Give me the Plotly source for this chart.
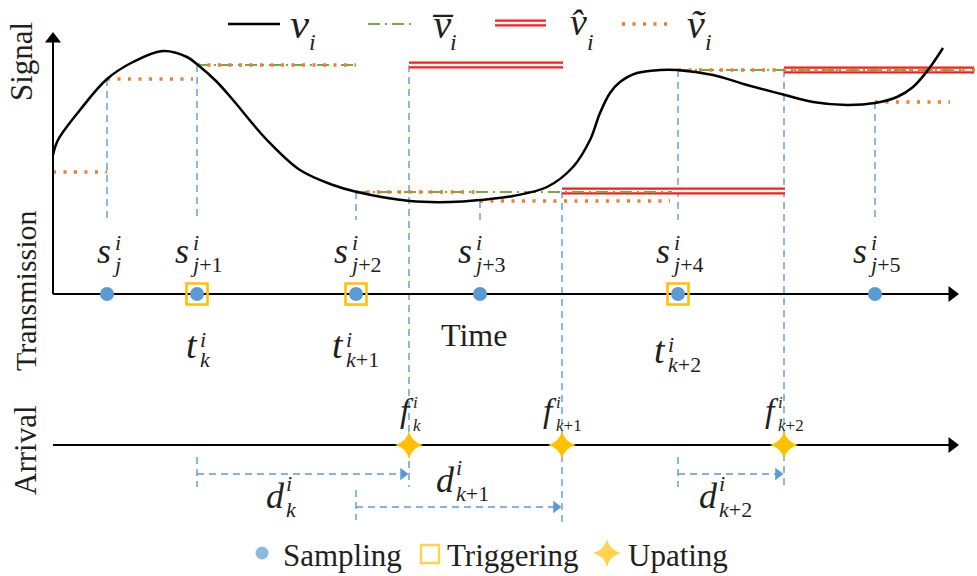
import plotly.graph_objects as go

# ---------------- data (diagram units: x = time, y = level, drawn downward) -------------
curve_t = [53, 58, 80, 107, 133, 163, 187, 198, 217, 233, 267, 300, 333, 357, 410, 450,
           480, 513, 547, 573, 590, 600, 610, 620, 637, 660, 677, 713, 747, 785, 813, 847,
           875, 897, 913, 928, 943]
curve_v = [155, 140, 110, 79, 62, 51, 57, 65, 82, 100, 140, 170, 185, 192, 201, 202,
           200, 196, 187, 167, 140, 113, 93, 82, 73, 70, 70, 75, 85, 95, 102, 105,
           103, 97, 87, 70, 48]

sample_t = [107, 197, 356, 480, 678, 875]
sample_v = [79, 65, 192, 201, 70, 102]
sample_sub = ["j", "j+1", "j+2", "j+3", "j+4", "j+5"]

trigger_idx = [1, 2, 4]
trigger_sub = ["k", "k+1", "k+2"]

arrival_t = [409, 562, 784]
arrival_v = [65, 191, 70]

tilde_start = [53, 107, 197, 356, 480, 678, 875]
tilde_end = [107, 193, 356, 480, 670, 977, 950]
tilde_v = [172, 79, 65, 192, 201, 70, 102]

bar_start = [197, 356, 678]
bar_end = [356, 672, 963]
bar_v = [65, 192, 70]

hat_start = [409, 562, 784]
hat_end = [563, 785, 974]
hat_v = [65, 191, 70]

legend_names = ["Sampling", "Triggering", "Upating"]

# ---------------- styles ----------------
FONT = "Liberation Serif"
TXT = "#231F20"
BLUE = "#5B9BD5"
ORANGE = "#ED7D31"
GREEN = "#70AD47"
GOLD = "#FFC000"
RED = "#FF1A1A"

AX_T = 294   # transmission axis level
AX_A = 445   # arrival axis level
X0 = 53
XEND = 958

fig = go.Figure()


def segs(starts, ends, vals):
    xs, ys = [], []
    for a, b, v in zip(starts, ends, vals):
        xs += [a, b, None]
        ys += [v, v, None]
    return xs, ys


def line(xs, ys, color, width, dash="solid", shape="linear"):
    fig.add_trace(go.Scatter(x=xs, y=ys, mode="lines", hoverinfo="skip",
                             line=dict(color=color, width=width, dash=dash, shape=shape)))


# blue dashed guides from samples
xs, ys = [], []
for t, v in zip(sample_t, sample_v):
    xs += [t, t, None]
    ys += [v, 220, None]
line(xs, ys, BLUE, 1.4, "7px,5px")

# blue dashed guides at arrivals
arr_bottom = [487, 522, 487]
xs, ys = [], []
for t, v, b in zip(arrival_t, arrival_v, arr_bottom):
    xs += [t, t, None]
    ys += [v, b, None]
line(xs, ys, BLUE, 1.4, "7px,5px")

# delay arrows
delay_y = [474, 507, 474]
xs, ys = [], []
for i, k in enumerate(trigger_idx):
    t0 = sample_t[k]
    xs += [t0, t0, None, t0, arrival_t[i] - 8, None]
    ys += [delay_y[i] - 17, delay_y[i] + 13, None, delay_y[i], delay_y[i], None]
line(xs, ys, BLUE, 1.4, "7px,5px")
fig.add_trace(go.Scatter(x=[a - 6 for a in arrival_t], y=delay_y, mode="markers", hoverinfo="skip",
                         marker=dict(symbol="triangle-right", size=11, color=BLUE)))

# red hollow (v hat)
xs, ys = segs(hat_start, hat_end, hat_v)
line(xs, ys, RED, 7)
line(xs, ys, "white", 2.6)
# green dash-dot (v bar)
xs, ys = segs(bar_start, bar_end, bar_v)
line(xs, ys, GREEN, 2, "12px,5px,2px,5px")
# orange dotted (v tilde)
xs, ys = segs(tilde_start, tilde_end, tilde_v)
line(xs, ys, ORANGE, 3.5, "3px,7.5px")

# true signal
line(curve_t, curve_v, "black", 2.5, shape="spline")

# axes
line([X0, X0, None, X0, XEND - 8, None, X0, XEND - 8],
     [AX_T, 42, None, AX_T, AX_T, None, AX_A, AX_A], "black", 2)
fig.add_trace(go.Scatter(x=[X0, XEND - 6, XEND - 6], y=[39, AX_T, AX_A], mode="markers", hoverinfo="skip",
                         marker=dict(symbol=["triangle-up", "triangle-right", "triangle-right"],
                                     size=14, color="black")))

# events
fig.add_trace(go.Scatter(x=[sample_t[k] for k in trigger_idx], y=[AX_T] * len(trigger_idx),
                         mode="markers", hoverinfo="skip",
                         marker=dict(symbol="square-open", size=21, color=GOLD, line=dict(width=2.6))))
fig.add_trace(go.Scatter(x=sample_t, y=[AX_T] * len(sample_t), mode="markers", hoverinfo="skip",
                         marker=dict(symbol="circle", size=14, color=BLUE)))
fig.add_trace(go.Scatter(x=arrival_t, y=[AX_A] * len(arrival_t), mode="markers", hoverinfo="skip",
                         marker=dict(symbol="star-diamond", size=20, color=GOLD)))

# ---------------- text ----------------
W = {"s": 0.389, "t": 0.278, "f": 0.278, "d": 0.5, "v": 0.444, "i": 0.278, "j": 0.278,
     "k": 0.444, "+": 0.675}
GAP = {"s": 1, "t": 4, "f": 4, "d": 2}


def width(s):
    return sum(W.get(c, 0.5) for c in s)


def txt(x, y, text, size, xanchor="center", angle=0, align="center"):
    fig.add_annotation(x=x, y=y, text=text, showarrow=False, xanchor=xanchor, yanchor="middle",
                       textangle=angle, align=align, borderpad=0,
                       font=dict(family=FONT, size=size, color=TXT))


def fmt(s):
    out = ""
    for c in s:
        out += f"<i>{c}</i>" if c.isalpha() else c
    return out


def mlabel(cx, yb, main, sup, sub, sm, ss, dsup, dsub):
    """main letter with a stacked superscript / subscript pair"""
    adv = W[main] * sm + GAP[main]
    sw = max(width(sup), width(sub)) * ss
    x0 = cx - (adv + sw) / 2
    txt(x0, yb - 0.34 * sm, f"<i>{main}</i>", sm, "left")
    b_sup = yb - dsup
    b_sub = yb + dsub
    gap = b_sub - b_sup
    text = (f"<span style='font-size:{ss}px'>{fmt(sup)}</span><br>"
            f"<span style='font-size:{ss}px'>{fmt(sub)}</span>")
    mid = (b_sup + b_sub) / 2 - 0.3375 * ss
    txt(x0 + adv, mid, text, gap / 1.3, "left", align="left")


for t, sub in zip(sample_t, sample_sub):
    mlabel(t, 263, "s", "i", sub, 36, 22, 13, 9)
t_base = [358, 358, 363]
for n, k in enumerate(trigger_idx):
    mlabel(sample_t[k], t_base[n], "t", "i", trigger_sub[n], 38, 22, 11, 9)
for t, sub in zip(arrival_t, trigger_sub):
    mlabel(t, 422, "f", "i", sub, 34, 17, 14, 9)
d_dx = [-23, 4, -5]
d_base = [508, 492, 508]
for n, k in enumerate(trigger_idx):
    cx = (sample_t[k] + arrival_t[n]) / 2 + d_dx[n]
    mlabel(cx, d_base[n], "d", "i", trigger_sub[n], 36, 22, 17, 9)

txt(474, 335, "Time", 32)
txt(21, 62, "Signal", 31, angle=-90)
txt(25, 291, "Transmission", 30, angle=-90)
txt(25, 450, "Arrival", 31, angle=-90)

# top legend
line([228, 280], [24, 24], "black", 2.5)
line([368, 415], [24, 24], GREEN, 2, "12px,5px,2px,5px")
line([495, 546], [23, 23], RED, 7)
line([495, 546], [23, 23], "white", 2.6)
line([622, 667], [24, 24], ORANGE, 3.5, "3px,7.5px")
top_syms = ["<i>v</i>", "<i>v\u0305</i>", "<i>v\u0302</i>", "<i>\u1e7d</i>"]
top_x = [289, 431, 569, 686]
top_base = [38, 38, 35, 38]
top_size = [43, 40, 38, 40]
for s, x, b, sz in zip(top_syms, top_x, top_base, top_size):
    txt(x, b - 0.34 * sz, s, sz, "left")
    txt(x + 0.444 * sz, 50 - 0.34 * 24, "<i>i</i>", 24, "left")

# bottom legend
fig.add_trace(go.Scatter(x=[262, 430, 607], y=[553, 554, 553], mode="markers", hoverinfo="skip",
                         marker=dict(symbol=["circle", "square-open", "star-diamond"],
                                     size=[13, 18, 20], color=[BLUE, GOLD, GOLD],
                                     line=dict(width=[0, 2.4, 0], color=GOLD))))
for x, name in zip([282, 446, 627], legend_names):
    txt(x, 555, name, 31, "left")

fig.update_layout(width=977, height=576, margin=dict(l=0, r=0, t=0, b=0),
                  paper_bgcolor="white", plot_bgcolor="white", showlegend=False,
                  xaxis=dict(range=[0, 977], visible=False, fixedrange=True),
                  yaxis=dict(range=[576, 0], visible=False, fixedrange=True))
fig.write_html("out.html", config={"displayModeBar": False},
               post_script="document.body.style.margin='0';")
